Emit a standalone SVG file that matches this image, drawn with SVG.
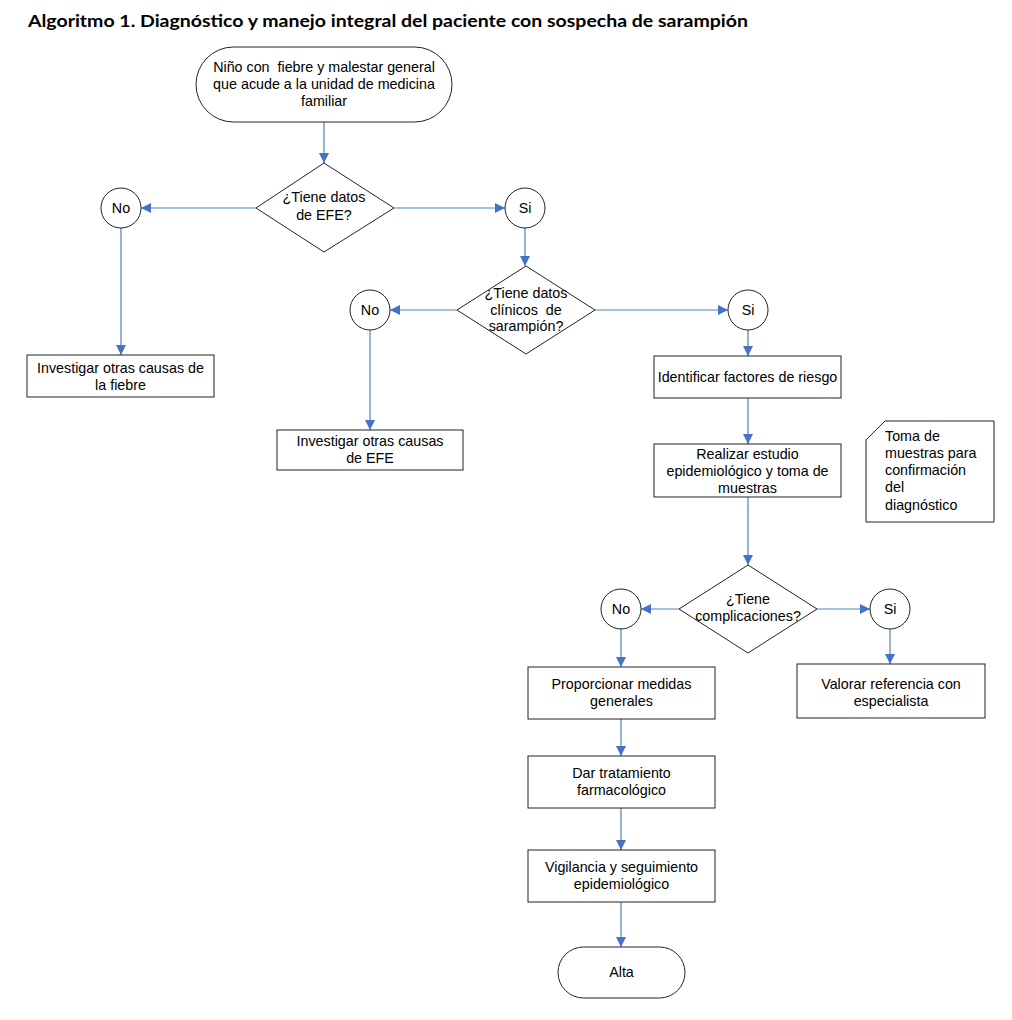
<svg xmlns="http://www.w3.org/2000/svg" width="1012" height="1020" viewBox="0 0 1012 1020">
<defs>
<marker id="ah" viewBox="0 0 10 10" refX="10" refY="5" markerWidth="10" markerHeight="10" markerUnits="userSpaceOnUse" orient="auto">
<path d="M0,0 L10,5 L0,10 z" fill="#4472c4"/>
</marker>
</defs>
<style>
.s{fill:#fff;stroke:#222;stroke-width:1}
.t{font-family:"Liberation Sans",Arial,sans-serif;font-size:14.3px;fill:#000;text-anchor:middle}
.tl{font-family:"Liberation Sans",Arial,sans-serif;font-size:14.3px;fill:#000}
.c{fill:none;stroke:#4f81bd;stroke-width:1.2;marker-end:url(#ah)}
</style>
<rect width="1012" height="1020" fill="#fff"/>
<text x="28" y="27" font-family="Lato,'Open Sans',sans-serif" font-weight="bold" font-size="17" textLength="720" lengthAdjust="spacingAndGlyphs">Algoritmo 1. Diagnóstico y manejo integral del paciente con sospecha de sarampión</text>

<g id="connectors">
<line class="c" x1="324" y1="122" x2="324" y2="163"/>
<line class="c" x1="256" y1="208" x2="141" y2="208"/>
<line class="c" x1="394" y1="208" x2="505" y2="208"/>
<line class="c" x1="121" y1="228" x2="121" y2="355"/>
<line class="c" x1="525" y1="228" x2="525" y2="266"/>
<line class="c" x1="457" y1="310" x2="390" y2="310"/>
<line class="c" x1="595" y1="310" x2="728" y2="310"/>
<line class="c" x1="370" y1="330" x2="370" y2="430"/>
<line class="c" x1="748" y1="330" x2="748" y2="356"/>
<line class="c" x1="748" y1="398" x2="748" y2="444"/>
<line class="c" x1="748" y1="497" x2="748" y2="565"/>
<line class="c" x1="679" y1="609" x2="641" y2="609"/>
<line class="c" x1="817" y1="609" x2="870" y2="609"/>
<line class="c" x1="621" y1="629" x2="621" y2="667"/>
<line class="c" x1="890" y1="629" x2="890" y2="664"/>
<line class="c" x1="621" y1="719" x2="621" y2="756"/>
<line class="c" x1="621" y1="808" x2="621" y2="850"/>
<line class="c" x1="621" y1="902" x2="621" y2="947"/>
</g>

<g id="inicio">
<rect class="s" x="196" y="47" width="256" height="75" rx="37.5" ry="37.5"/>
<text class="t" x="324" y="72" xml:space="preserve">Niño con  fiebre y malestar general</text>
<text class="t" x="324" y="89">que acude a la unidad de medicina</text>
<text class="t" x="324" y="106">familiar</text>
</g>

<g id="dec1">
<polygon class="s" points="324,163 394,208 324,252 256,208"/>
<text class="t" x="324" y="202">¿Tiene datos</text>
<text class="t" x="324" y="220">de EFE?</text>
</g>

<g id="no1">
<circle class="s" cx="121" cy="208" r="20"/>
<text class="t" x="121" y="213">No</text>
</g>
<g id="si1">
<circle class="s" cx="525" cy="208" r="20"/>
<text class="t" x="525" y="213">Si</text>
</g>

<g id="inv-fiebre">
<rect class="s" x="27" y="355" width="187" height="42"/>
<text class="t" x="120.5" y="373">Investigar otras causas de</text>
<text class="t" x="120.5" y="390">la fiebre</text>
</g>

<g id="dec2">
<polygon class="s" points="526,266 595,310 526,354 457,310"/>
<text class="t" x="526" y="298">¿Tiene datos</text>
<text class="t" x="526" y="315" xml:space="preserve">clínicos  de</text>
<text class="t" x="526" y="331">sarampión?</text>
</g>

<g id="no2">
<circle class="s" cx="370" cy="310" r="20"/>
<text class="t" x="370" y="315">No</text>
</g>
<g id="si2">
<circle class="s" cx="748" cy="310" r="20"/>
<text class="t" x="748" y="315">Si</text>
</g>

<g id="inv-efe">
<rect class="s" x="277" y="430" width="186" height="40"/>
<text class="t" x="370" y="446">Investigar otras causas</text>
<text class="t" x="370" y="463">de EFE</text>
</g>

<g id="factores">
<rect class="s" x="654" y="356" width="187" height="42"/>
<text class="t" x="747.5" y="382">Identificar factores de riesgo</text>
</g>

<g id="estudio">
<rect class="s" x="654" y="444" width="187" height="53"/>
<text class="t" x="747.5" y="459">Realizar estudio</text>
<text class="t" x="747.5" y="476">epidemiológico y toma de</text>
<text class="t" x="747.5" y="493">muestras</text>
</g>

<g id="nota">
<path class="s" d="M885,421 L994,421 L994,522 L866,522 L866,440 Z"/>
<text class="tl" x="885" y="441">Toma de</text>
<text class="tl" x="885" y="458">muestras para</text>
<text class="tl" x="885" y="475">confirmación</text>
<text class="tl" x="885" y="492">del</text>
<text class="tl" x="885" y="510">diagnóstico</text>
</g>

<g id="dec3">
<polygon class="s" points="748,565 817,609 748,653 679,609"/>
<text class="t" x="748" y="604">¿Tiene</text>
<text class="t" x="748" y="621">complicaciones?</text>
</g>

<g id="no3">
<circle class="s" cx="621" cy="609" r="20"/>
<text class="t" x="621" y="614">No</text>
</g>
<g id="si3">
<circle class="s" cx="890" cy="609" r="20"/>
<text class="t" x="890" y="614">Si</text>
</g>

<g id="medidas">
<rect class="s" x="528" y="667" width="187" height="52"/>
<text class="t" x="621.5" y="689">Proporcionar medidas</text>
<text class="t" x="621.5" y="706">generales</text>
</g>

<g id="referencia">
<rect class="s" x="797" y="664" width="188" height="54"/>
<text class="t" x="891" y="689">Valorar referencia con</text>
<text class="t" x="891" y="706">especialista</text>
</g>

<g id="tratamiento">
<rect class="s" x="528" y="756" width="187" height="52"/>
<text class="t" x="621.5" y="778">Dar tratamiento</text>
<text class="t" x="621.5" y="795">farmacológico</text>
</g>

<g id="vigilancia">
<rect class="s" x="528" y="850" width="187" height="52"/>
<text class="t" x="621.5" y="872">Vigilancia y seguimiento</text>
<text class="t" x="621.5" y="889">epidemiológico</text>
</g>

<g id="alta">
<rect class="s" x="558" y="947" width="127" height="51" rx="25.5" ry="25.5"/>
<text class="t" x="621.5" y="977">Alta</text>
</g>
</svg>
